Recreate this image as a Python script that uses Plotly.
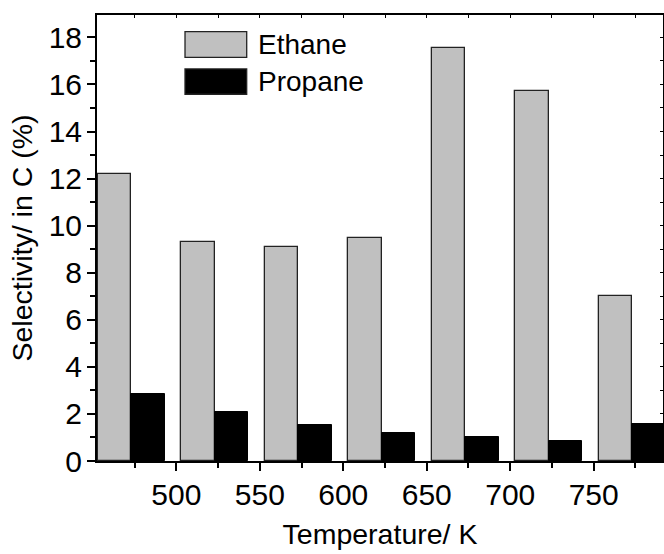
import plotly.graph_objects as go

temperatures = [473, 523, 573, 623, 673, 723, 773]
ethane = [12.2, 9.3, 9.1, 9.47, 17.54, 15.74, 7.02]
propane = [2.86, 2.09, 1.54, 1.19, 1.02, 0.85, 1.56]
series_names = ["Ethane", "Propane"]
series_colors = ["#C0C0C0", "#000000"]

FONT = "Liberation Sans, Arial, sans-serif"

fig = go.Figure()
fig.add_trace(go.Bar(x=temperatures, y=ethane, name=series_names[0], offset=-20, width=20,
                     marker=dict(color=series_colors[0], line=dict(color="#222222", width=1.3)),
                     showlegend=False))
fig.add_trace(go.Bar(x=temperatures, y=propane, name=series_names[1], offset=0, width=20,
                     marker=dict(color=series_colors[1], line=dict(color="#000000", width=1)),
                     showlegend=False))

xr = [452.5, 791.5]
yr = [0, 18.95]

fig.update_layout(
    width=664, height=554,
    margin=dict(l=97, r=1, t=15, b=93),
    paper_bgcolor="white", plot_bgcolor="white",
    font=dict(family=FONT, size=30, color="black"),
    xaxis=dict(range=xr, tickvals=[500, 550, 600, 650, 700, 750], ticks="outside", ticklen=8, tickwidth=1.5,
               tickcolor="black", showline=True, linecolor="black", linewidth=2, showgrid=False, zeroline=False,
               minor=dict(dtick=25, tick0=475, ticks="outside", ticklen=5, tickwidth=1.5, tickcolor="black"),
               title=dict(text="Temperature/ K", font=dict(size=28.5), standoff=14),
               tickfont=dict(size=30), ticklabelstandoff=-2),
    yaxis=dict(range=yr, dtick=2, ticks="outside", ticklen=8, tickwidth=1.5, tickcolor="black",
               showline=True, linecolor="black", linewidth=2, showgrid=False, zeroline=False,
               minor=dict(dtick=1, ticks="outside", ticklen=5, tickwidth=1.5, tickcolor="black"),
               title=dict(text="Selectivity/ in C (%)", font=dict(size=28.5), standoff=8),
               tickfont=dict(size=30), ticklabelstandoff=-1),
    xaxis2=dict(range=xr, overlaying="x", side="top", dtick=25, tick0=475, ticks="inside", ticklen=3,
                tickcolor="black", showline=True, linecolor="black", linewidth=2, showticklabels=False,
                showgrid=False, zeroline=False),
    yaxis2=dict(range=yr, overlaying="y", side="right", dtick=1, ticks="inside", ticklen=3,
                tickcolor="black", showline=True, linecolor="black", linewidth=2, showticklabels=False,
                showgrid=False, zeroline=False),
    bargap=0,
)
# invisible trace to activate the mirrored axes
fig.add_trace(go.Scatter(x=[xr[0]], y=[yr[0]], xaxis="x2", yaxis="y2", mode="markers",
                         marker=dict(opacity=0), showlegend=False, hoverinfo="skip"))

# manual legend
legend_rows = [(0.9052, 0.9626), (0.8223, 0.879)]
for (y0, y1), name, col in zip(legend_rows, series_names, series_colors):
    fig.add_shape(type="rect", xref="paper", yref="paper", x0=0.1555, x1=0.2645, y0=y0, y1=y1,
                  fillcolor=col, line=dict(color="#222222", width=1.3))
    fig.add_annotation(xref="paper", yref="paper", x=0.281, y=(y0 + y1) / 2, text=name, showarrow=False,
                       xanchor="left", yanchor="middle", font=dict(size=28, family=FONT, color="black"))

fig.write_html("out.html")
